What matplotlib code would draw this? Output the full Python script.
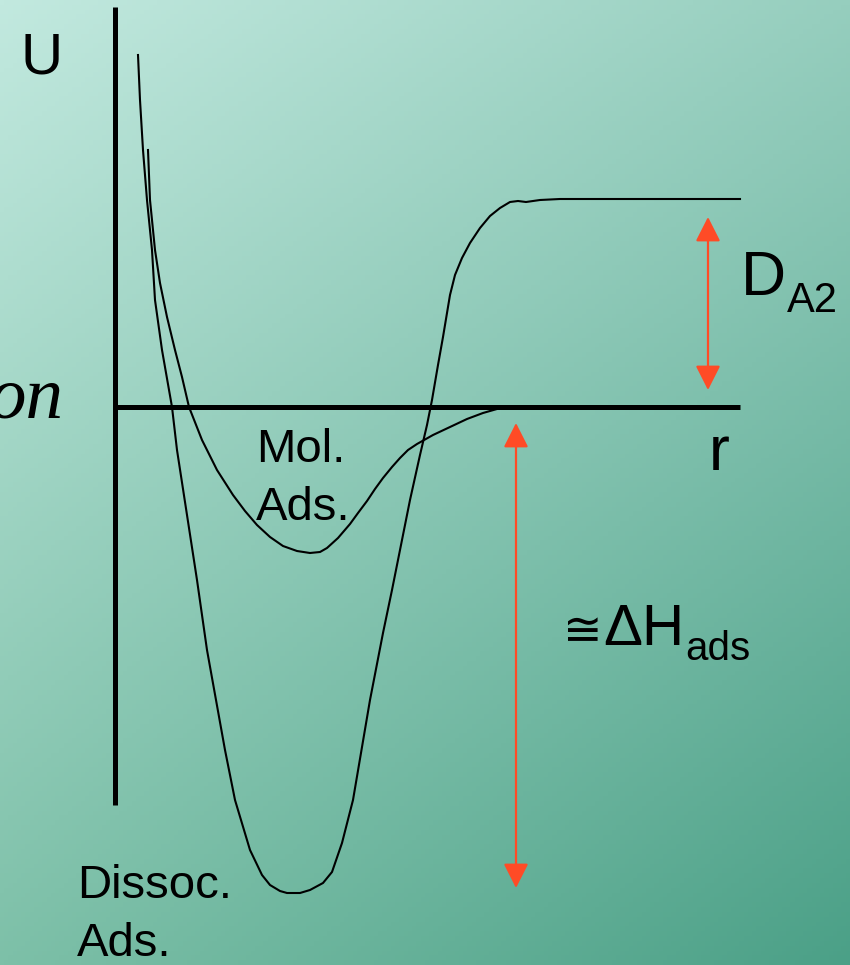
import numpy as np
import matplotlib.pyplot as plt

W, H = 850, 965

# potential curves, in canvas pixel units (x = r, y = U pointing down)
dissoc_x = [138, 140, 143, 147, 152, 155, 162, 172, 177, 197, 207, 225, 235, 250, 262, 270, 280,
            287, 300, 310, 323, 332, 342, 353, 370, 383, 392, 400, 410, 420, 427, 432, 438, 443,
            450, 455, 462, 470, 480, 490, 500, 510, 518, 526, 540, 560, 740]
dissoc_y = [55, 100, 150, 200, 250, 300, 350, 407, 450, 580, 650, 750, 800, 850, 875, 885, 891,
            893, 893, 890, 883, 872, 843, 800, 700, 633, 590, 550, 500, 455, 425, 400, 365, 337,
            295, 275, 258, 243, 228, 216, 208, 202, 201, 202, 200, 199, 199]

mol_x = [148, 150, 155, 160, 167, 175, 182, 189, 202, 217, 233, 245, 257, 270, 283, 297, 310, 320,
         327, 338, 350, 358, 367, 375, 383, 392, 400, 408, 417, 433, 450, 467, 483, 497, 520]
mol_y = [150, 200, 250, 283, 317, 350, 377, 407, 440, 470, 495, 511, 525, 537, 546, 551, 553, 552,
         548, 538, 524, 513, 501, 489, 478, 467, 458, 450, 444, 435, 427, 419, 413, 409, 407]

# axes
u_axis_x, u_axis_top, u_axis_bottom = 115, 7, 805
r_axis_y, r_axis_left, r_axis_right = 407, 115, 740

# energy gaps (top, bottom) shown by double arrows
dissociation_x, dissociation_span = 708, (217, 390)
enthalpy_x, enthalpy_span = 516, (423, 888)

fig = plt.figure(figsize=(W / 100, H / 100), dpi=100)
ax = fig.add_axes([0, 0, 1, 1])
ax.set_xlim(0, W)
ax.set_ylim(H, 0)
ax.axis('off')

# diagonal green background
tl = np.array([194, 233, 223]) / 255
tr = np.array([150, 206, 190]) / 255
bl = np.array([125, 192, 168]) / 255
br = np.array([75, 160, 135]) / 255
gx = np.linspace(0, 1, 200)[None, :, None]
gy = np.linspace(0, 1, 200)[:, None, None]
bg = (tl * (1 - gx) * (1 - gy) + tr * gx * (1 - gy) + bl * (1 - gx) * gy + br * gx * gy)
ax.imshow(bg, extent=[0, W, H, 0], aspect='auto', zorder=0)

ax.plot([u_axis_x, u_axis_x], [u_axis_top, u_axis_bottom], color='black', lw=3.6,
        solid_capstyle='butt', zorder=3)
ax.plot([r_axis_left, r_axis_right], [r_axis_y, r_axis_y], color='black', lw=3.6,
        solid_capstyle='butt', zorder=3)

ax.plot(dissoc_x, dissoc_y, color='black', lw=1.5, zorder=2, solid_joinstyle='round')
ax.plot(mol_x, mol_y, color='black', lw=1.5, zorder=2, solid_joinstyle='round')

arrow_red = '#FF4B26'
for x, (top, bottom) in [(dissociation_x, dissociation_span), (enthalpy_x, enthalpy_span)]:
    ax.annotate('', xy=(x, top), xytext=(x, bottom),
                arrowprops=dict(arrowstyle='<|-|>,head_length=0.75,head_width=0.38',
                                mutation_scale=20, color=arrow_red, lw=1.6,
                                shrinkA=0, shrinkB=0), zorder=4)

sans = ['Liberation Sans', 'DejaVu Sans']
renderer = fig.canvas.get_renderer()


def text_run(x, y, parts):
    # lay out (string, fontsize, dy) pieces one after another on a baseline
    for s, size, dy in parts:
        t = ax.text(x, y + dy, s, fontsize=size, family=sans, va='baseline', ha='left')
        bb = t.get_window_extent(renderer).transformed(ax.transData.inverted())
        x = max(bb.x0, bb.x1) + 1


ax.text(21, 73, 'U', fontsize=42, family=sans, va='baseline', ha='left')
ax.text(64, 417, 'on', fontsize=54, family='Liberation Serif', style='italic',
        va='baseline', ha='right')
ax.text(709, 470, 'r', fontsize=45, family=sans, va='baseline', ha='left')
text_run(741, 295, [('D', 45, 0), ('A2', 30, 17)])
text_run(563, 645, [('≅', 34, 0), ('ΔH', 42, 0), ('ads', 29, 15)])
ax.text(256, 462, 'Mol.', fontsize=34, family=sans, va='baseline', ha='left')
ax.text(256, 520, 'Ads.', fontsize=34, family=sans, va='baseline', ha='left')
ax.text(77, 898, 'Dissoc.', fontsize=34, family=sans, va='baseline', ha='left')
ax.text(77, 956, 'Ads.', fontsize=34, family=sans, va='baseline', ha='left')

fig.savefig('out.png', dpi=100)
